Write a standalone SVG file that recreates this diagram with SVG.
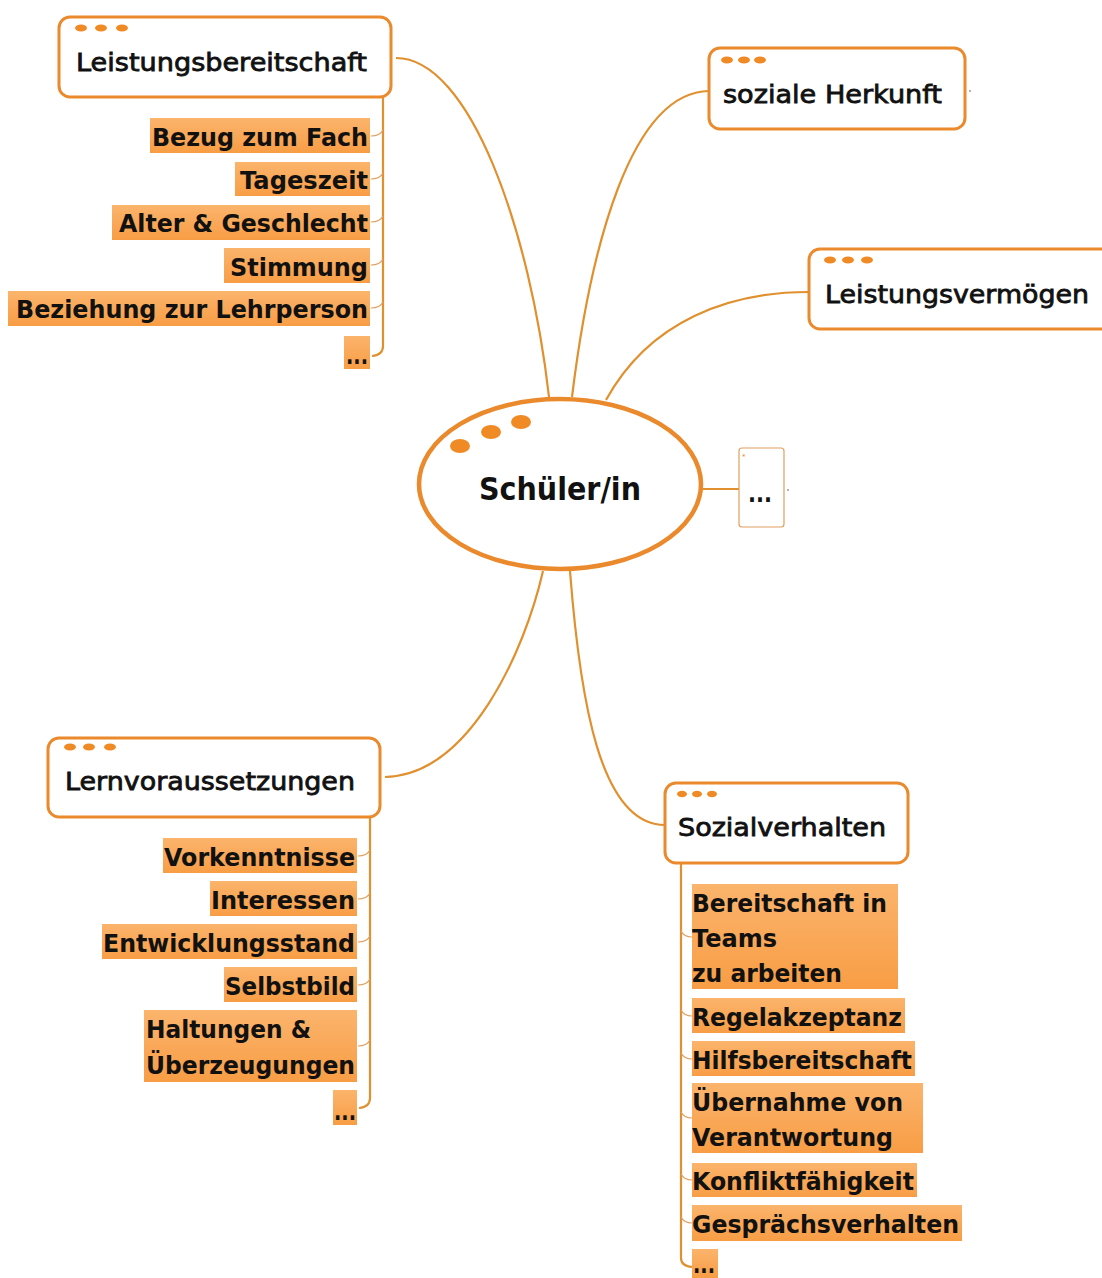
<svg xmlns="http://www.w3.org/2000/svg" width="1102" height="1278" viewBox="0 0 1102 1278">
<defs>
<linearGradient id="lg" x1="0" y1="0" x2="0" y2="1">
<stop offset="0" stop-color="#fbb46c"/>
<stop offset="1" stop-color="#f89d45"/>
</linearGradient>
</defs>
<style>
.node{fill:#fff;stroke:#ea8a2c;stroke-width:3}
.dot{fill:#ef8a25}
.con{fill:none;stroke:#e0902e;stroke-width:2.2}
.tick{fill:none;stroke:#e0a060;stroke-width:1.2}
.leaf{fill:url(#lg)}
.mt{font-family:"DejaVu Sans",Verdana,sans-serif;font-size:25px;fill:#111;stroke:#111;stroke-width:0.8}
.lt{font-family:"DejaVu Sans",Verdana,sans-serif;font-size:25px;font-weight:bold;fill:#111}
</style>
<rect width="1102" height="1278" fill="#fff"/>
<g id="connectors">
<path class="con" d="M396,58 C470,58 530,230 549,397"/>
<path class="con" d="M572,397 C590,250 630,92 709,91"/>
<path class="con" d="M606,400 C650,320 730,292 809,292"/>
<path class="con" d="M702,489 L739,489"/>
<path class="con" d="M385,777 C470,775 525,650 543,571"/>
<path class="con" d="M570,571 C580,700 600,825 665,825"/>
<path class="con" stroke-width="1.6" d="M383,97 L383,346 Q383,355 372,356"/>
<path class="con" stroke-width="1.6" d="M370,817 L370,1098 Q370,1107 359,1108"/>
<path class="con" stroke-width="1.6" d="M681,863 L681,1258 Q681,1266 692,1267"/>
<g class="tick">
<path d="M371,136 Q380,136 383,130"/>
<path d="M371,179 Q380,179 383,173"/>
<path d="M371,222 Q380,222 383,216"/>
<path d="M371,265 Q380,265 383,259"/>
<path d="M371,308 Q380,308 383,302"/>
<path d="M358,856 Q367,856 370,850"/>
<path d="M358,899 Q367,899 370,893"/>
<path d="M358,942 Q367,942 370,936"/>
<path d="M358,985 Q367,985 370,979"/>
<path d="M358,1046 Q367,1046 370,1040"/>
<path d="M692,937 Q684,937 681,931"/>
<path d="M692,1016 Q684,1016 681,1010"/>
<path d="M692,1059 Q684,1059 681,1053"/>
<path d="M692,1118 Q684,1118 681,1112"/>
<path d="M692,1180 Q684,1180 681,1174"/>
<path d="M692,1223 Q684,1223 681,1217"/>
</g>
</g>
<g id="center">
<ellipse cx="560" cy="484" rx="141" ry="85" fill="#fff" stroke="#ea8a2c" stroke-width="4.5"/>
<ellipse class="dot" cx="460" cy="446" rx="10" ry="7"/>
<ellipse class="dot" cx="491" cy="432" rx="10" ry="7"/>
<ellipse class="dot" cx="521" cy="422" rx="10" ry="7"/>
<text x="479" y="500" font-family="DejaVu Sans,Verdana,sans-serif" font-size="32" font-weight="bold" fill="#111" textLength="162" lengthAdjust="spacingAndGlyphs">Schüler/in</text>
</g>
<g id="leistungsbereitschaft">
<rect class="node" x="59" y="17" width="332" height="80" rx="11"/>
<ellipse class="dot" cx="81" cy="28" rx="6" ry="3.5"/><ellipse class="dot" cx="101" cy="28" rx="6" ry="3.5"/><ellipse class="dot" cx="122" cy="28" rx="6" ry="3.5"/>
<text class="mt" x="76" y="71" textLength="291" lengthAdjust="spacingAndGlyphs">Leistungsbereitschaft</text>
</g>
<g id="lb-items">
<rect class="leaf" x="150" y="118" width="220" height="35"/>
<text class="lt" x="152" y="146" textLength="216" lengthAdjust="spacingAndGlyphs">Bezug zum Fach</text>
<rect class="leaf" x="235" y="162" width="135" height="34"/>
<text class="lt" x="240" y="189" textLength="128" lengthAdjust="spacingAndGlyphs">Tageszeit</text>
<rect class="leaf" x="112" y="205" width="258" height="35"/>
<text class="lt" x="119" y="232" textLength="249" lengthAdjust="spacingAndGlyphs">Alter &amp; Geschlecht</text>
<rect class="leaf" x="224" y="248" width="146" height="35"/>
<text class="lt" x="230" y="276" textLength="138" lengthAdjust="spacingAndGlyphs">Stimmung</text>
<rect class="leaf" x="8" y="291" width="362" height="35"/>
<text class="lt" x="16" y="318" textLength="352" lengthAdjust="spacingAndGlyphs">Beziehung zur Lehrperson</text>
<rect class="leaf" x="344" y="336" width="26" height="33"/>
<text class="lt" x="346" y="364" textLength="22" lengthAdjust="spacingAndGlyphs">...</text>
</g>
<g id="soziale-herkunft">
<rect class="node" x="709" y="48" width="256" height="81" rx="11"/>
<ellipse class="dot" cx="727" cy="60" rx="6" ry="3.5"/><ellipse class="dot" cx="744" cy="60" rx="6" ry="3.5"/><ellipse class="dot" cx="760" cy="60" rx="6" ry="3.5"/>
<text class="mt" x="723" y="103" textLength="219" lengthAdjust="spacingAndGlyphs">soziale Herkunft</text>
<circle cx="970" cy="91" r="0.8" fill="#555"/>
</g>
<g id="leistungsvermoegen">
<rect class="node" x="809" y="249" width="310" height="80" rx="11"/>
<ellipse class="dot" cx="830" cy="260" rx="6" ry="3.5"/><ellipse class="dot" cx="848" cy="260" rx="6" ry="3.5"/><ellipse class="dot" cx="867" cy="260" rx="6" ry="3.5"/>
<text class="mt" x="825" y="303" textLength="264" lengthAdjust="spacingAndGlyphs">Leistungsvermögen</text>
</g>
<g id="more">
<rect x="739" y="448" width="45" height="79" rx="3" fill="#fff" stroke="#e0a060" stroke-width="1.2"/>
<text x="742" y="459" font-family="DejaVu Sans,sans-serif" font-size="7" fill="#e08a30">*</text>
<text class="lt" x="748" y="502" font-size="22" textLength="24" lengthAdjust="spacingAndGlyphs">...</text>
<circle cx="788" cy="490" r="0.8" fill="#555"/>
</g>
<g id="lernvoraussetzungen">
<rect class="node" x="48" y="738" width="332" height="79" rx="11"/>
<ellipse class="dot" cx="70" cy="747" rx="6" ry="3.5"/><ellipse class="dot" cx="89" cy="747" rx="6" ry="3.5"/><ellipse class="dot" cx="110" cy="747" rx="6" ry="3.5"/>
<text class="mt" x="65" y="790" textLength="290" lengthAdjust="spacingAndGlyphs">Lernvoraussetzungen</text>
</g>
<g id="lv-items">
<rect class="leaf" x="163" y="838" width="194" height="35"/>
<text class="lt" x="164" y="866" textLength="191" lengthAdjust="spacingAndGlyphs">Vorkenntnisse</text>
<rect class="leaf" x="210" y="881" width="147" height="35"/>
<text class="lt" x="211" y="909" textLength="144" lengthAdjust="spacingAndGlyphs">Interessen</text>
<rect class="leaf" x="102" y="924" width="255" height="35"/>
<text class="lt" x="103" y="952" textLength="252" lengthAdjust="spacingAndGlyphs">Entwicklungsstand</text>
<rect class="leaf" x="224" y="967" width="133" height="35"/>
<text class="lt" x="225" y="995" textLength="130" lengthAdjust="spacingAndGlyphs">Selbstbild</text>
<rect class="leaf" x="144" y="1010" width="213" height="72"/>
<text class="lt" x="146" y="1038" textLength="165" lengthAdjust="spacingAndGlyphs">Haltungen &amp;</text>
<text class="lt" x="146" y="1074" textLength="209" lengthAdjust="spacingAndGlyphs">Überzeugungen</text>
<rect class="leaf" x="333" y="1090" width="24" height="35"/>
<text class="lt" x="334" y="1120" textLength="22" lengthAdjust="spacingAndGlyphs">...</text>
</g>
<g id="sozialverhalten">
<rect class="node" x="665" y="783" width="243" height="80" rx="11"/>
<ellipse class="dot" cx="682" cy="794" rx="5" ry="3.2"/><ellipse class="dot" cx="697" cy="794" rx="5" ry="3.2"/><ellipse class="dot" cx="712" cy="794" rx="5" ry="3.2"/>
<text class="mt" x="678" y="836" textLength="208" lengthAdjust="spacingAndGlyphs">Sozialverhalten</text>
</g>
<g id="sv-items">
<rect class="leaf" x="692" y="884" width="206" height="105"/>
<text class="lt" x="692" y="912" textLength="195" lengthAdjust="spacingAndGlyphs">Bereitschaft in</text>
<text class="lt" x="692" y="947" textLength="85" lengthAdjust="spacingAndGlyphs">Teams</text>
<text class="lt" x="692" y="982" textLength="150" lengthAdjust="spacingAndGlyphs">zu arbeiten</text>
<rect class="leaf" x="692" y="998" width="213" height="35"/>
<text class="lt" x="692" y="1026" textLength="210" lengthAdjust="spacingAndGlyphs">Regelakzeptanz</text>
<rect class="leaf" x="692" y="1041" width="223" height="35"/>
<text class="lt" x="692" y="1069" textLength="220" lengthAdjust="spacingAndGlyphs">Hilfsbereitschaft</text>
<rect class="leaf" x="692" y="1083" width="231" height="70"/>
<text class="lt" x="692" y="1111" textLength="211" lengthAdjust="spacingAndGlyphs">Übernahme von</text>
<text class="lt" x="692" y="1146" textLength="201" lengthAdjust="spacingAndGlyphs">Verantwortung</text>
<rect class="leaf" x="692" y="1163" width="225" height="34"/>
<text class="lt" x="692" y="1190" textLength="222" lengthAdjust="spacingAndGlyphs">Konfliktfähigkeit</text>
<rect class="leaf" x="692" y="1205" width="270" height="36"/>
<text class="lt" x="692" y="1233" textLength="267" lengthAdjust="spacingAndGlyphs">Gesprächsverhalten</text>
<rect class="leaf" x="692" y="1249" width="26" height="29"/>
<text class="lt" x="693" y="1273" textLength="22" lengthAdjust="spacingAndGlyphs">...</text>
</g>
</svg>
